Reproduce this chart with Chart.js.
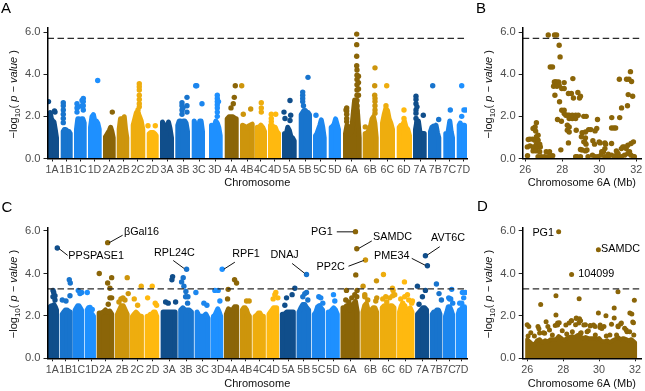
<!DOCTYPE html>
<html>
<head>
<meta charset="utf-8">
<style>
  html, body { margin: 0; padding: 0; background: #fff; }
  canvas { position: absolute; }
</style>
<script src="https://cdn.jsdelivr.net/npm/chart.js@4/dist/chart.umd.min.js"></script>
</head>
<body>
<canvas id="panelA" width="478" height="195" style="left:0;top:0"></canvas>
<canvas id="panelB" width="175" height="195" style="left:470px;top:0"></canvas>
<canvas id="panelC" width="478" height="196" style="left:0;top:195px"></canvas>
<canvas id="panelD" width="175" height="196" style="left:470px;top:195px"></canvas>
<script>
const chromLabels = ['1A','1B','1C','1D','2A','2B','2C','2D','3A','3B','3C','3D','4A','4B','4C','4D','5A','5B','5C','5D','6A','6B','6C','6D','7A','7B','7C','7D'];
const chromColors = ['#104E8B','#1874CD','#1C86EE','#1E90FF','#8B6508','#CD950C','#EEAD0E','#FFB90F'];
const yTicks = [0, 2, 4, 6];
const mbTicks = [26, 28, 30, 32];

// genome position of each chromosome, panel A
const startA = [47.7,60.7,74,88,103,116.7,130.7,146.7,160,175.3,191.7,209,224.7,240,254.7,268,282,298.7,313,328.7,343,362.7,380,396.7,413,428,443.3,456.7];
const endA = [59,72.7,86.7,101.7,115.7,129.3,145.3,158.7,174,190,205,222.7,238.7,254.7,267,281,296.7,312,326.7,341,361.7,378.7,395,412,426.7,441.3,455,467];
const tickA = [52,66,80,94.5,109,123.3,137.7,152.5,167,183,199,215,231,247,260.7,274.7,289.3,305,320,335,351.7,370.3,387.3,404,420,435.3,449.3,463.3];
// top of the solid mass across each chromosome, panel A
const massA = [
  [2.3,2.0,1.9,1.85,1.5,1.1],[1.4,1.5,1.5,1.45,1.4,1.4,1.3],[1.5,2.0,2.0,1.7,2.0,2.0,1.8],[1.6,2.1,2.2,1.9,1.9,1.8,1.5],
  [1.15,1.25,1.35,1.45,1.6,1.4,1.1],[1.5,2.0,2.0,1.9,2.1,1.5,1.1],[1.7,2.0,2.3,2.3,2.1,1.9,1.5],[1.3,1.35,1.35,1.35,1.3,1.2],
  [1.85,1.7,1.55,1.55,1.85,1.55,1.1],[1.7,1.9,1.9,1.8,1.9,1.9,1.8,1.4],[1.9,1.7,1.6,1.5,1.9,1.9,1.4],[1.7,1.65,1.7,1.9,1.8,1.6,1.2],
  [2.0,2.1,2.1,2.1,2.05,2.0],[1.7,1.65,1.55,1.65,1.7,1.75],[1.6,1.6,1.7,1.6,1.4],[1.7,1.7,1.6,1.6,1.4,1.3],
  [1.3,1.25,1.6,1.45,1.15,1.1,0.95],[2.2,2.3,2.4,2.4,2.3,2.3,2.2],[1.2,1.3,1.5,1.7,1.95,1.6,1.1],[1.6,1.65,1.75,2.0,1.75,1.5],
  [1.3,1.7,1.6,1.3,1.4,2.2,2.9,2.9,2.2,1.1],[1.3,1.3,1.4,1.5,1.7,2.0,2.1,1.8,1.1],[1.8,2.2,2.5,2.4,2.0,1.8,1.5],[1.6,1.7,1.7,1.9,1.6,1.5,1.2],
  [1.5,1.9,1.9,1.4,1.3,1.3,1.3],[1.4,1.6,1.65,1.55,1.7,1.35,1.1],[1.3,1.15,1.5,1.9,1.4,1.1],[1.7,1.8,1.7,1.7,1.7,1.7]
];
// single markers standing above the mass, panel A
const hitXA = [48.5,54.5,55,97.7,112.3,148,155.3,187,195.7,196.7,202,235.3,234.3,233.3,231,241.7,243.3,250.7,261.3,271.3,275.7,284,285,290,290.7,290,308,316,356.7,356.7,356.7,356.7,346.7,346,365.3,375,374.7,374.7,375,386.7,386,404,404,423.3,432.7,438.7,450.3,461.7,461.7,464,466,
  63.3,63.3,63.3,63.3,63.3,63.3,77,77,77,78.5,83.3,83.3,83.3,83.3,82,82,139.3,139.3,139.3,139.3,139.3,139.3,139.3,138,138,
  182,182,182,182,183,187,187,217.3,217.3,217.3,217.3,217.3,217.3,217.3,218.5,261.3,261.3,271.3,271.3,302.7,302.7,302.7,302.7,303.5,
  357,357,357,357,357,357,357,357,357,358.5,358.5,358.5,358.5,346.7,346.7,346.7,346.7,375,375,375,375,416,416,416,416,416,416,417,417,417];
const hitYA = [2.7,2.25,2.2,3.7,2.2,1.55,1.55,2.9,3.45,3.45,2.6,3.45,2.9,2.6,2.4,3.45,2.1,2.35,2.65,2.1,2.1,2.2,1.9,2.75,2.05,1.8,3.85,2.05,5.9,5.4,4.85,4.4,2.4,2.3,1.5,4.3,3.45,3.0,2.5,3.45,2.5,2.3,1.9,2.05,3.45,1.85,2.3,3.45,2.0,2.3,2.3,
  2.65,2.5,2.3,2.1,1.9,1.7,2.6,2.4,2.2,2.45,2.85,2.7,2.5,2.3,2.75,2.5,3.55,3.4,3.25,3.0,2.8,2.6,2.45,2.3,2.15,
  2.65,2.5,2.3,2.1,2.4,2.5,2.2,3.0,2.85,2.7,2.55,2.4,2.2,2.0,2.7,2.4,2.2,1.9,1.75,3.15,3.0,2.85,2.7,2.5,
  4.2,3.95,3.75,3.5,3.25,3.0,2.75,2.5,2.25,3.9,3.6,3.3,3.0,2.25,2.1,1.9,1.75,2.85,2.7,2.3,2.15,2.95,2.8,2.6,2.3,2.15,1.9,2.45,1.7,1.5];

// same chromosomes, panel C
const startC = [47.7,59.7,72.7,84.7,96.7,115,130,144.7,160.7,178.3,194.7,211,224,240,252.7,266.7,280,296.7,312,326,340.7,360.7,380,397.3,415.3,430,443.3,456];
const endC = [59,72.7,84,96,114.3,129.7,144,159.3,177.7,194,210.7,223.3,239.3,252,266,279.3,296,311.3,325.3,340,360,379.3,396.7,414.7,429.3,442.7,455.3,467.3];
const tickC = [52.3,65.7,78.3,92,105.7,122.3,137.3,152.7,169.3,186.3,202.3,218,231.7,246,260,273.3,288.3,304,318.7,333.3,350.3,370.7,388.7,406,422.7,436.7,449.3,462];
const massC = [
  [2.55,2.6,2.6,2.65,2.55,2.4],[2.2,2.3,2.4,2.4,2.35,2.3],[2.4,2.5,2.6,2.6,2.5,2.4],[2.4,2.5,2.3,2.2,2.2,2.1],
  [2.25,2.25,2.3,2.4,2.3,2.35,2.2],[2.2,2.4,2.6,2.6,2.4,2.2],[2.1,2.2,2.3,2.2,2.1,2.1],[2.1,2.1,2.2,2.2,2.3,2.3,2.1],
  [2.3,2.3,2.3,2.3,2.3,2.3,2.3],[2.4,2.5,2.4,2.4,2.4,2.3],[2.3,2.1,2.1,2.1,2.2,2.0],[2.1,2.15,2.3,2.45,2.3,2.1],
  [2.2,2.45,2.4,2.4,2.55,2.55],[2.4,2.5,2.5,2.4,2.2,2.1],[2.1,2.15,2.25,2.25,2.1,2.1],[2.2,2.3,2.4,2.5,2.5,2.5],
  [2.2,2.2,2.3,2.3,2.3,2.3],[2.3,2.5,2.65,2.65,2.5,2.4],[2.2,2.3,2.55,2.6,2.5,2.4],[2.3,2.3,2.4,2.5,2.4,2.2],
  [2.5,2.5,2.6,2.6,2.4,2.6,2.7,2.8,2.3],[2.3,2.6,2.7,2.4,2.3,2.4,2.5,2.5,2.3],[2.5,2.6,2.6,2.5,2.6,2.6,2.5],[2.3,2.6,2.4,2.6,2.3,2.4,2.5,2.3],
  [2.2,2.3,2.4,2.5,2.5,2.4],[2.2,2.3,2.3,2.4,2.4,2.2],[2.1,2.3,2.55,2.55,2.4,2.2],[2.2,2.4,2.4,2.5,2.55,2.55]
];
const hitXC = [53,53.7,55,57.3,69.3,70.3,70,62.3,66,78.3,81.7,80,87.3,90,92.3,99.3,107.7,111.7,107.7,110,110,111.7,108.3,127.3,128.3,141.3,134.3,137.7,152.3,147.7,155.3,156.7,165.7,168.3,172.7,172,175.7,186.7,183.3,181.7,184,186,185.7,196,204,207,222.3,215,218.3,220,228.3,234.7,236.7,227.7,246.7,249.3,276,273.3,295,292.3,286.7,285,306.7,306.7,333.7,335,355.7,357,356,346.7,357.3,365.7,363.3,365,383.7,376.7,393.3,392.7,395,404.7,407.7,412.7,425.7,427.7,417.7,425.7,419.3,422.7,436.7,439.3,441.7,452,450,462.7,465.7,462,
  53,55,188,187.7,355,352,357,346,349,365,368,376,377,383,386,390,393,387,401,403,405,409,412,303,305,308,319,321,323,121,123,125,119,275,278,449,451,453,460,464];
const hitYC = [3.2,3.1,2.95,5.2,3.7,3.55,2.95,2.75,2.7,3.2,3.1,3.05,3.1,2.4,2.3,4.0,5.45,3.8,3.55,3.3,2.85,2.85,2.55,3.8,3.05,3.4,2.8,2.5,3.4,2.85,2.6,2.5,2.65,2.6,3.85,3.7,2.65,4.2,3.8,3.6,3.4,3.15,2.9,3.1,2.6,2.5,4.2,3.2,3.2,2.7,3.25,3.7,3.55,2.8,2.7,2.7,3.1,2.8,3.3,3.0,2.85,2.5,3.95,3.1,3.0,2.7,5.97,5.16,3.93,3.2,3.2,4.63,3.4,3.0,3.95,3.65,3.2,3.3,3.0,3.6,3.0,2.7,4.83,4.36,3.4,3.2,2.55,2.9,3.5,3.05,2.75,3.25,2.8,3.1,3.1,2.6,
  2.9,2.75,2.9,2.6,3.0,2.85,2.9,2.75,2.65,2.9,2.75,2.7,2.85,2.8,2.9,2.85,2.95,2.65,2.8,2.6,2.9,2.75,2.6,2.9,3.05,2.75,2.9,2.85,2.6,2.8,2.85,2.75,2.65,3.0,2.85,2.85,2.8,2.6,2.6,2.85];

// gene names and their leader lines, panel C
const genesC = ['PPSPASE1','\u03b2Gal16','RPL24C','RPF1','DNAJ','PG1','SAMDC','PP2C','PME34','AVT6C'];
const geneXC = [68.3,124,154,232.3,270.7,311.3,373.3,316.7,374.3,431.3];
const geneYC = [4.8,5.97,4.96,4.93,4.88,5.96,5.7,4.3,4.8,5.69];
const leadFromX = [59,109.3,173.3,224,292.3,337,372,348.7,412,440];
const leadFromY = [5.17,5.45,4.61,4.2,4.47,5.96,5.53,4.34,4.71,5.26];
const leadToX = [67.7,122.7,184.3,235,304.7,353.3,359,364,425.7,427.7];
const leadToY = [4.85,5.8,4.23,4.53,4.01,5.96,5.18,4.61,4.38,4.87];

// chromosome 6A, panel B
const mbB = [27.24,27.58,27.69,27.83,27.88,27.35,27.47,
  27.57,27.62,27.69,27.8,27.53,27.71,27.83,28.1,28.57,27.97,28.1,27.6,28.33,28.49,28.84,28.98,28.6,28.93,27.85,
  27.97,28.1,28.1,28.19,28.28,28.37,28.54,28.72,28.86,29.16,29.29,28.37,28.54,28.72,27.74,27.95,29.9,30.67,31.1,
  28.27,28.37,28.27,28.37,28.75,29.42,29.54,29.86,29.77,29.07,29.25,29.03,29.25,29.16,29.28,30.66,30.78,30.88,28.33,27.92,
  31.2,31.52,31.08,31.47,31.6,31.74,31.68,31.56,31.8,
  26.12,26.16,26.25,26.39,26.11,26.25,26.42,26.55,26.69,26.81,26.42,26.6,26.78,27.13,27.31,26.42,26.53,26.6,26.56,26.69,26.6,26.51,26.69,26.6,26.78,26.69,26.86,27.04,27.22,27.48,27.36,
  28.98,28.72,28.8,29.07,29.21,28.98,29.25,29.33,29.39,29.63,29.77,29.92,29.65,29.74,29.99,30.04,30.3,30.22,30.3,30.34,30.13,30.09,30.48,30.66,30.66,30.92,30.92,31.01,31.19,31.27,31.36,31.45,31.54,31.71,31.84,31.36,31.54,31.63,31.71,31.84,31.89,31.19,31.01,30.83,30.48,30.3];
const logpB = [5.86,5.86,5.86,5.37,4.82,4.34,4.34,
  3.63,3.63,3.63,3.63,3.43,3.43,3.47,3.6,3.79,3.32,3.32,3.0,3.08,3.08,3.13,2.95,2.87,2.87,2.69,
  2.29,2.29,2.13,2.05,2.05,2.05,2.05,2.05,2.05,2.0,2.0,1.9,1.9,1.9,1.85,1.77,1.85,1.94,1.94,
  1.58,1.5,1.34,1.26,1.34,1.37,1.37,1.42,1.31,1.22,1.26,1.03,0.98,0.79,0.68,1.45,1.45,1.45,0.74,0.41,
  2.4,2.5,3.76,3.76,3.76,3.65,4.12,3.03,2.95,
  0.13,0.9,0.92,0.92,0.55,0.6,0.55,0.55,0.55,0.55,0.36,0.36,0.32,0.32,0.32,1.42,1.5,1.7,1.3,1.1,1.03,0.87,0.87,0.68,0.68,0.08,0.08,0.08,0.08,0.13,0.13,
  0.08,0.08,0.08,0.4,0.79,0.43,0.36,0.4,0.08,0.16,0.08,0.08,0.84,0.68,0.79,0.74,0.74,0.32,0.47,0.68,0.32,0.16,0.2,0.71,0.16,0.16,0.36,0.24,0.47,0.55,0.55,0.47,0.63,0.71,0.79,0.16,0.24,0.32,0.16,0.08,0.08,0.08,0.08,0.08,0.08,0.08];

// chromosome 6A, panel D
const mbD = [27.75,29.96,28.47,26.75,27.6,28.89,31.05,31.96,30.84,29.96,30.38,30.84,31.71,31.82,31.87,27.6,27.05,26,26.09,26.6,26.65,27.69,27.56,27.15,28.33,28.47,28.73,28.91,28.87,28.69,29.24,29.51,29.78,30.05,30.27,30.69,31.24,31.42,31.05,31.55,
  27.69,27.78,28.15,28.45,28.73,28.97,29.15,29.51,29.69,30.06,30.15,31.2,31.06,31.51,31.91,31.93,30.6,30.97,26.69,27.24,26.97,28.51,28.97,29.33,29.79,26.2,26.4,26.9,27.4,27.95,28.2,29.0,29.4,30.4,31.7,26.05];
const logpD = [5.97,5.12,3.95,2.53,2.95,2.81,3.14,2.73,2.37,2.13,2.0,1.9,2.13,2.09,1.71,2.04,1.72,1.58,1.5,1.5,1.39,1.66,1.55,1.5,1.66,1.77,1.9,1.86,1.66,1.58,1.58,1.55,1.5,1.45,1.5,1.61,1.66,1.42,1.52,1.25,
  1.57,1.68,1.57,1.77,1.88,1.77,1.57,1.52,1.57,1.57,1.41,1.62,1.49,1.33,1.68,1.1,1.1,1.1,1.19,1.33,1.18,1.25,1.18,1.25,1.1,1.2,1.05,1.2,1.1,1.3,1.15,1.2,1.3,1.05,1.25,1.05];
const floorMbD = [26,26.12,26.25,26.4,26.55,26.7,26.85,27,27.15,27.3,27.45,27.6,27.75,27.9,28.05,28.2,28.35,28.5,28.65,28.8,28.95,29.1,29.25,29.4,29.55,29.7,29.85,30,30.15,30.3,30.45,30.6,30.75,30.9,31.05,31.2,31.35,31.5,31.65,31.8,32];
const floorLogpD = [1.0,0.9,0.8,0.75,0.95,1.0,0.85,0.95,0.9,1.0,1.0,1.0,1.15,1.05,0.95,1.05,1.1,1.15,1.1,1.2,1.15,1.05,1.1,1.05,1.05,1.05,1.0,1.05,0.9,0.9,0.95,0.85,0.95,1.0,1.1,1.0,1.05,1.0,0.95,1.0,0.85];
const genesD = ['PG1','SAMDC','104099'];
const geneMbD = [26.29,30.11,28.84];
const geneLogpD = [5.92,5.13,3.98];

const thresholdTop = 5.7;
const thresholdBottom = 3.27;

const ink = '#000';
const grey = '#4d4d4d';
const brown = '#8B6508';
const face = '"Liberation Sans", Arial, sans-serif';

function colourFor(i) { return chromColors[i % 8]; }
function colourAt(x, starts) {
  let k = 0;
  starts.forEach((s, i) => { if (x >= s) k = i; });
  return colourFor(k);
}
function dashed(xMin, xMax, y) {
  return { type: 'scatter', data: [{x: xMin, y: y}, {x: xMax, y: y}], showLine: true, borderColor: '#2b2b2b', borderWidth: 1.3, borderDash: [6.5, 3.5], pointRadius: 0 };
}
function massDatasets(starts, ends, mass) {
  return mass.map((tops, i) => {
    const inset = 2.5;
    const left = starts[i] + inset, right = ends[i] - inset;
    const pts = tops.map((t, j) => ({ x: left + (right - left) * j / (tops.length - 1), y: t - 0.12 }));
    return {
      type: 'scatter', showLine: true, fill: 'origin', clip: 0,
      data: [{x: left, y: 0}, ...pts, {x: right, y: 0}],
      borderColor: colourFor(i), backgroundColor: colourFor(i), borderWidth: 5,
      borderJoinStyle: 'round', borderCapStyle: 'round', pointRadius: 0
    };
  });
}
function hits(xs, ys, starts) {
  return { type: 'scatter', data: xs.map((x, i) => ({x: x, y: ys[i]})), pointRadius: 2.7, pointBorderWidth: 0,
    pointBackgroundColor: xs.map(x => colourAt(x, starts)) };
}

// draws the mixed-style y title, the panel letter and any gene names
const panelText = {
  id: 'panelText',
  afterDatasetsDraw(chart, args, opts) {
    const ctx = chart.ctx;
    const {x, y} = chart.scales;
    ctx.save();
    ctx.fillStyle = ink;
    ctx.textBaseline = 'alphabetic';
    ctx.font = '15px ' + face;
    ctx.fillText(opts.letter, opts.letterX, opts.letterY);
    ctx.textBaseline = 'middle';
    ctx.font = '10.8px ' + face;
    (opts.genes || []).forEach((g, i) => ctx.fillText(g, x.getPixelForValue(opts.geneX[i]), y.getPixelForValue(opts.geneY[i])));
    ctx.restore();

    const runs = [
      ['\u2212log', '11px ' + face, 0], ['10', '8px ' + face, 2.5], ['( ', '11px ' + face, 0],
      ['p \u2212 value', 'italic 11px ' + face, 0], [' )', '11px ' + face, 0]
    ];
    ctx.save();
    ctx.fillStyle = '#111';
    ctx.textBaseline = 'alphabetic';
    let total = 0;
    runs.forEach(r => { ctx.font = r[1]; total += ctx.measureText(r[0]).width; });
    ctx.translate(opts.titleX, (chart.chartArea.top + chart.chartArea.bottom) / 2 + 1);
    ctx.rotate(-Math.PI / 2);
    let at = -total / 2;
    runs.forEach(r => {
      ctx.font = r[1];
      ctx.fillText(r[0], at, r[2]);
      at += ctx.measureText(r[0]).width;
    });
    ctx.restore();
  }
};

function panel(id, cfg) {
  return new Chart(document.getElementById(id), {
    data: { datasets: cfg.datasets },
    plugins: [panelText],
    options: {
      responsive: false,
      animation: false,
      layout: { padding: { left: 0, top: cfg.top, right: cfg.right, bottom: cfg.bottom } },
      plugins: {
        legend: { display: false },
        tooltip: { enabled: false },
        panelText: cfg.text
      },
      scales: {
        x: {
          type: 'linear', min: cfg.xMin, max: cfg.xMax,
          afterBuildTicks: s => { s.ticks = cfg.xTicks.map(v => ({value: v})); },
          afterFit: s => { s.height = cfg.xHeight; },
          border: { color: ink, width: 1.5, z: 1 },
          grid: { drawOnChartArea: false, drawTicks: true, tickLength: 3, tickColor: '#222', tickWidth: 1 },
          ticks: { autoSkip: false, maxRotation: 0, minRotation: 0, padding: 2, color: grey,
            font: { family: face, size: cfg.xFont }, callback: cfg.xLabel },
          title: { display: true, text: cfg.xTitle, color: '#111', padding: 0, font: { family: face, size: 11 } }
        },
        y: {
          min: 0, max: cfg.yMax,
          afterBuildTicks: s => { s.ticks = yTicks.map(v => ({value: v})); },
          afterFit: s => { s.width = cfg.yWidth; },
          border: { color: ink, width: 1.5, z: 1 },
          grid: { drawOnChartArea: false, drawTicks: true, tickLength: 4, tickColor: '#222', tickWidth: 1 },
          ticks: { padding: 3, color: grey, font: { family: face, size: 11.2 }, callback: v => v.toFixed(1) }
        }
      }
    }
  });
}
const chromName = (v, i) => chromLabels[i];

panel('panelA', {
  top: 28, right: 11, bottom: 5, xHeight: 31.5, yWidth: 47.5, yMax: 6.19, xMin: 47.5, xMax: 467,
  xTicks: tickA, xLabel: chromName, xFont: 10.6, xTitle: 'Chromosome',
  text: { letter: 'A', letterX: 1, letterY: 13, titleX: 17 },
  datasets: [dashed(47.5, 467, thresholdTop), hits(hitXA, hitYA, startA), ...massDatasets(startA, endA, massA)]
});

panel('panelB', {
  top: 28, right: 1.7, bottom: 5, xHeight: 31.5, yWidth: 52.7, yMax: 6.19, xMin: 25.86, xMax: 32.25,
  xTicks: mbTicks, xLabel: v => String(v), xFont: 10.8, xTitle: 'Chromosome 6A (Mb)',
  text: { letter: 'B', letterX: 6, letterY: 13, titleX: 22 },
  datasets: [dashed(25.86, 32.25, thresholdTop),
    { type: 'scatter', data: mbB.map((x, i) => ({x: x, y: logpB[i]})), pointRadius: 2.7, pointBorderWidth: 0, pointBackgroundColor: brown }]
});

const leaders = leadFromX.map((x, i) => ({
  type: 'scatter', showLine: true, data: [{x: x, y: leadFromY[i]}, {x: leadToX[i], y: leadToY[i]}],
  borderColor: '#111', borderWidth: 1, pointRadius: 0
}));
panel('panelC', {
  top: 32.7, right: 11, bottom: 0.5, xHeight: 32.2, yWidth: 47.5, yMax: 6.155, xMin: 47.5, xMax: 467.3,
  xTicks: tickC, xLabel: chromName, xFont: 10.6, xTitle: 'Chromosome',
  text: { letter: 'C', letterX: 1.5, letterY: 17, titleX: 17, genes: genesC, geneX: geneXC, geneY: geneYC },
  datasets: [dashed(47.5, 467.3, thresholdBottom), ...leaders, hits(hitXC, hitYC, startC), ...massDatasets(startC, endC, massC)]
});

panel('panelD', {
  top: 32.7, right: 1.7, bottom: 0.5, xHeight: 32.2, yWidth: 52.7, yMax: 6.155, xMin: 25.75, xMax: 32.33,
  xTicks: mbTicks, xLabel: v => String(v), xFont: 10.8, xTitle: 'Chromosome 6A (Mb)',
  text: { letter: 'D', letterX: 7, letterY: 16, titleX: 22, genes: genesD, geneX: geneMbD, geneY: geneLogpD },
  datasets: [dashed(25.75, 32.33, thresholdBottom),
    { type: 'scatter', data: mbD.map((x, i) => ({x: x, y: logpD[i]})), pointRadius: 2.5, pointBorderWidth: 0, pointBackgroundColor: brown },
    { type: 'scatter', showLine: true, fill: 'origin', clip: 0, data: [{x: floorMbD[0], y: 0}, ...floorMbD.map((x, i) => ({x: x, y: floorLogpD[i] - 0.1})), {x: floorMbD[floorMbD.length - 1], y: 0}],
      borderColor: brown, backgroundColor: brown, borderWidth: 4, borderJoinStyle: 'round', pointRadius: 0 }]
});
</script>
</body>
</html>
